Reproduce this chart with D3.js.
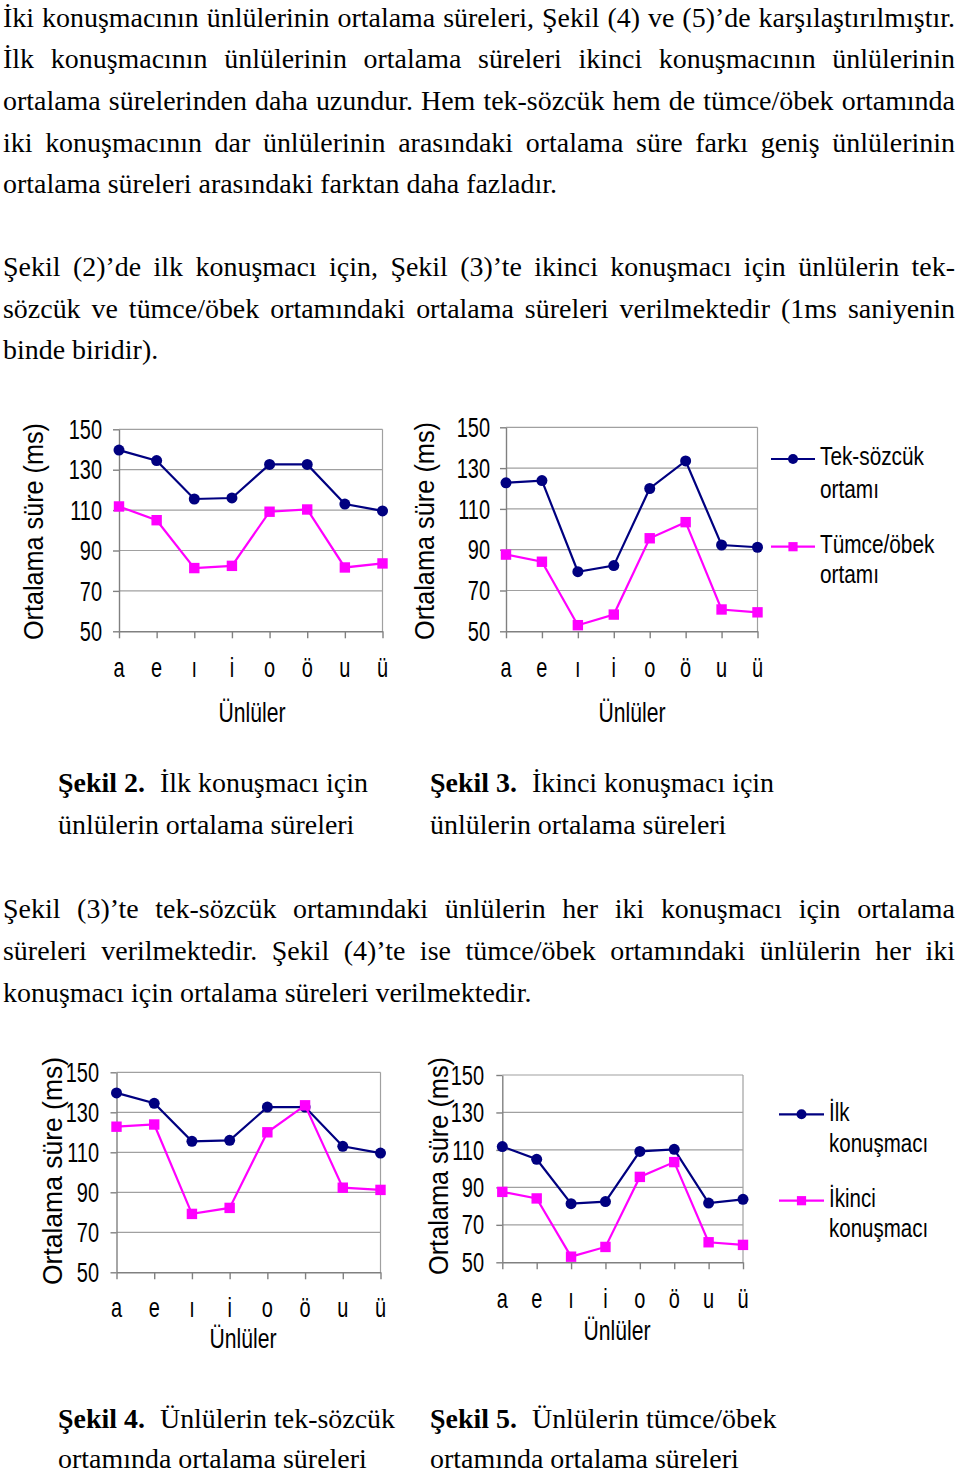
<!DOCTYPE html>
<html><head><meta charset="utf-8">
<script src="https://cdn.jsdelivr.net/npm/d3@7"></script>
<style>
html,body{margin:0;padding:0;background:#fff;}
svg{display:block;}
</style></head><body>
<svg id="page" width="960" height="1475"></svg>
<script>
// ---------- DATA ----------
const vowels = ["a","e","ı","i","o","ö","u","ü"];
const yTicks = [50,70,90,110,130,150];
const speaker1Word   = [139.7,134.5,115.5,116.0,132.6,132.6,113.0,109.6];
const speaker1Phrase = [111.8,105.0,81.3,82.4,109.2,110.3,81.6,83.6];
const speaker2Word   = [122.8,123.9,79.2,82.2,120.0,133.5,92.3,91.2];
const speaker2Phrase = [87.6,84.1,53.0,58.2,95.6,103.5,60.7,59.3];
const contextLegend = [["Tek-sözcük","ortamı"],["Tümce/öbek","ortamı"]];
const speakerLegend = [["İlk","konuşmacı"],["İkinci","konuşmacı"]];
const yTitleText = "Ortalama süre (ms)";
const xTitleText = "Ünlüler";

const paragraph1 = [
 "İki konuşmacının ünlülerinin ortalama süreleri, Şekil (4) ve (5)’de karşılaştırılmıştır.",
 "İlk konuşmacının ünlülerinin ortalama süreleri ikinci konuşmacının ünlülerinin",
 "ortalama sürelerinden daha uzundur. Hem tek-sözcük hem de tümce/öbek ortamında",
 "iki konuşmacının dar ünlülerinin arasındaki ortalama süre farkı geniş ünlülerinin",
 "ortalama süreleri arasındaki farktan daha fazladır."
];
const paragraph2 = [
 "Şekil (2)’de ilk konuşmacı için, Şekil (3)’te ikinci konuşmacı için ünlülerin tek-",
 "sözcük ve tümce/öbek ortamındaki ortalama süreleri verilmektedir (1ms saniyenin",
 "binde biridir)."
];
const paragraph3 = [
 "Şekil (3)’te tek-sözcük ortamındaki ünlülerin her iki konuşmacı için ortalama",
 "süreleri verilmektedir. Şekil (4)’te ise tümce/öbek ortamındaki ünlülerin her iki",
 "konuşmacı için ortalama süreleri verilmektedir."
];
const captionTitles = ["Şekil 2.","Şekil 3.","Şekil 4.","Şekil 5."];
const captionLine1 = ["İlk konuşmacı için","İkinci konuşmacı için","Ünlülerin tek-sözcük","Ünlülerin tümce/öbek"];
const captionLine2 = ["ünlülerin ortalama süreleri","ünlülerin ortalama süreleri","ortamında ortalama süreleri","ortamında ortalama süreleri"];

// ---------- LAYOUT ----------
const svg = d3.select("#page");
const SERIF = "'Liberation Serif','Times New Roman',serif";
const SANS = "'Liberation Sans',Arial,sans-serif";
const BODY = 28;
const LEFT = 3, RIGHT = 955;
const NAVY = "#000080", MAGENTA = "#ff00ff", GRID = "#a0a0a0", AXIS = "#808080";

function textWidth(str, family, size, weight){
  const t = svg.append("text").attr("font-family",family).attr("font-size",size)
    .attr("font-weight",weight||"normal").text(str);
  const w = t.node().getComputedTextLength();
  t.remove();
  return w;
}
const s = 554 / textWidth(paragraph1[4], SERIF, BODY);

function bodyLine(str, y, justify){
  const g = svg.append("g").attr("font-family",SERIF).attr("font-size",BODY).attr("fill","#000");
  if(!justify){
    g.append("text").attr("transform",`translate(${LEFT},${y}) scale(${s},1)`).text(str);
    return;
  }
  const words = str.split(" ");
  const ws = words.map(w => textWidth(w, SERIF, BODY) * s);
  const gap = (RIGHT - LEFT - d3.sum(ws)) / (words.length - 1);
  let cx = LEFT;
  words.forEach((w,i)=>{
    g.append("text").attr("transform",`translate(${cx},${y}) scale(${s},1)`).text(w);
    cx += ws[i] + gap;
  });
}
function paragraph(lines, y0){
  lines.forEach((l,i)=> bodyLine(l, y0 + i*41.67, i < lines.length-1));
}
paragraph(paragraph1, 26.7);
paragraph(paragraph2, 276);
paragraph(paragraph3, 918.3);

const captionPos = [[58,792,41.67],[430,792,41.67],[58,1428,40],[430,1428,40]];
captionPos.forEach((p,i)=>{
  const g = svg.append("g").attr("font-family",SERIF).attr("font-size",BODY).attr("fill","#000");
  const t = g.append("text").attr("transform",`translate(${p[0]},${p[1]}) scale(${s},1)`);
  t.append("tspan").attr("font-weight","bold").text(captionTitles[i]);
  t.append("tspan").attr("dx",15/s).text(captionLine1[i]);
  g.append("text").attr("transform",`translate(${p[0]},${p[1]+p[2]}) scale(${s},1)`).text(captionLine2[i]);
});

// ---------- CHARTS ----------
const charts = [
 {series:[speaker1Word, speaker1Phrase], x0:119, x1:382.5, yTop:429.3, yBot:631.3, labelRight:102,
  xLabelY:677, xTitleX:252, xTitleY:722, yTitleX:43, yTitleY:531.5, yTitleLen:217},
 {series:[speaker2Word, speaker2Phrase], x0:506, x1:757.5, yTop:427.3, yBot:631.3, labelRight:490,
  xLabelY:677, xTitleX:632, xTitleY:722, yTitleX:434, yTitleY:531, yTitleLen:218,
  legend:{names:contextLegend, lx0:771, lx1:815, tx:820, size:26, sx:0.8,
          rows:[{ly:459, b:[465,497.5]},{ly:546.7, b:[553.3,583.3]}]}},
 {series:[speaker1Word, speaker2Word], x0:116.5, x1:380.5, yTop:1072.3, yBot:1272.3, labelRight:99,
  xLabelY:1317, xTitleX:243, xTitleY:1348, yTitleX:62, yTitleY:1171, yTitleLen:228},
 {series:[speaker1Phrase, speaker2Phrase], x0:502.3, x1:743, yTop:1075, yBot:1262.3, labelRight:484,
  xLabelY:1308, xTitleX:617, xTitleY:1340, yTitleX:448, yTitleY:1166, yTitleLen:218,
  legend:{names:speakerLegend, lx0:779, lx1:824, tx:829, size:25, sx:0.82,
          rows:[{ly:1114.3, b:[1120.7,1151.7]},{ly:1200.7, b:[1206.7,1236.7]}]}}
];
const colors = [NAVY, MAGENTA];
const FS = 27, SX = 0.74;

function marker(g, k, cx, cy, r){
  if(k===0){
    g.append("circle").attr("cx",cx).attr("cy",cy).attr("r",r).attr("fill",NAVY);
  } else {
    g.append("rect").attr("x",cx-r).attr("y",cy-r).attr("width",2*r).attr("height",2*r).attr("fill",MAGENTA);
  }
}

charts.forEach(c=>{
  const g = svg.append("g");
  const x = d3.scalePoint().domain(vowels).range([c.x0, c.x1]).padding(0);
  const y = d3.scaleLinear().domain([50,150]).range([c.yBot, c.yTop]);

  // grid
  g.selectAll("line.grid").data(yTicks.filter(v=>v>50)).enter().append("line")
    .attr("x1",c.x0).attr("x2",c.x1).attr("y1",d=>y(d)).attr("y2",d=>y(d))
    .attr("stroke",GRID).attr("stroke-width",1.2);
  g.append("line").attr("x1",c.x1).attr("x2",c.x1).attr("y1",c.yTop).attr("y2",c.yBot)
    .attr("stroke",GRID).attr("stroke-width",1.2);

  // axes
  const ya = g.append("g").attr("transform",`translate(${c.x0},0)`)
    .call(d3.axisLeft(y).tickValues(yTicks).tickSize(6).tickSizeOuter(0).tickFormat(""));
  const xa = g.append("g").attr("transform",`translate(0,${c.yBot})`)
    .call(d3.axisBottom(x).tickSize(7).tickSizeOuter(0).tickFormat(""));
  [ya,xa].forEach(a=>{ a.selectAll("path,line").attr("stroke",AXIS).attr("stroke-width",1.4); });

  // tick labels
  yTicks.forEach(v=>{
    g.append("text").attr("transform",`translate(${c.labelRight},${y(v)+9.6}) scale(${SX},1)`)
      .attr("text-anchor","end").attr("font-family",SANS).attr("font-size",FS).text(v);
  });
  vowels.forEach(v=>{
    g.append("text").attr("transform",`translate(${x(v)},${c.xLabelY}) scale(${SX},1)`)
      .attr("text-anchor","middle").attr("font-family",SANS).attr("font-size",FS).text(v);
  });
  // axis titles
  g.append("text").attr("transform",`translate(${c.xTitleX},${c.xTitleY}) scale(0.755,1)`)
    .attr("text-anchor","middle").attr("font-family",SANS).attr("font-size",28).text(xTitleText);
  g.append("text").attr("transform",`translate(${c.yTitleX},${c.yTitleY + c.yTitleLen/2}) rotate(-90)`)
    .attr("font-family",SANS).attr("font-size",27)
    .attr("textLength",c.yTitleLen).attr("lengthAdjust","spacingAndGlyphs").text(yTitleText);

  // series
  const line = d3.line().x((d,i)=>x(vowels[i])).y(d=>y(d));
  c.series.forEach((ser,k)=>{
    g.append("path").datum(ser).attr("d",line).attr("fill","none")
      .attr("stroke",colors[k]).attr("stroke-width",2.2);
    ser.forEach((v,i)=> marker(g, k, x(vowels[i]), y(v), k===0?5.5:5.2));
  });

  // legend
  if(c.legend){
    const L = c.legend;
    L.rows.forEach((r,k)=>{
      g.append("line").attr("x1",L.lx0).attr("x2",L.lx1).attr("y1",r.ly).attr("y2",r.ly)
        .attr("stroke",colors[k]).attr("stroke-width",2.2);
      marker(g, k, (L.lx0+L.lx1)/2, r.ly, k===0?5:4.6);
      L.names[k].forEach((nm,j)=>{
        g.append("text").attr("transform",`translate(${L.tx},${r.b[j]}) scale(${L.sx},1)`)
          .attr("font-family",SANS).attr("font-size",L.size).text(nm);
      });
    });
  }
});
</script>
</body></html>
